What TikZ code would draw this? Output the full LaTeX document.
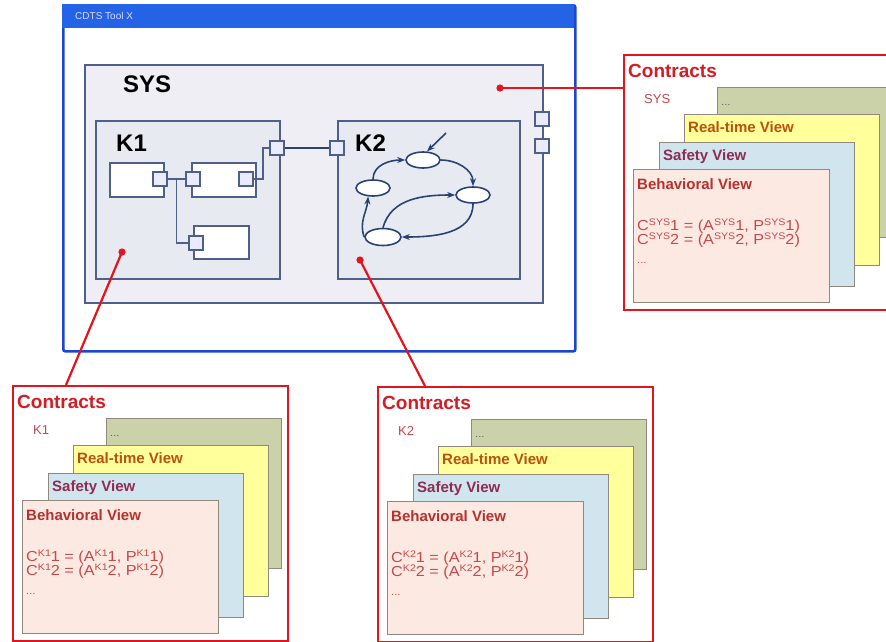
\documentclass[tikz,border=0pt]{standalone}
\usepackage{fontspec}
\setmainfont{Liberation Sans}
\newfontfamily\widesans[FakeStretch=1.12]{Liberation Sans}
\usetikzlibrary{calc,positioning,shapes.geometric,arrows.meta}

\definecolor{winblue}{HTML}{1C45D2}
\definecolor{barblue}{HTML}{2462E6}
\definecolor{sysfill}{HTML}{EEEEF4}
\definecolor{kfill}{HTML}{E8EAF2}
\definecolor{boxline}{HTML}{4E6089}
\definecolor{navy}{HTML}{2A4272}
\definecolor{cred}{HTML}{E3141E}
\definecolor{ctrtext}{HTML}{D41C24}
\definecolor{olivev}{HTML}{CBD1A9}
\definecolor{yellowv}{HTML}{FFFF9C}
\definecolor{bluev}{HTML}{D0E5EE}
\definecolor{pinkv}{HTML}{FCEAE2}
\definecolor{cardline}{HTML}{8F897E}
\definecolor{rtcol}{HTML}{B9520C}
\definecolor{sfcol}{HTML}{8E2C52}
\definecolor{bhcol}{HTML}{B5302E}
\definecolor{fmcol}{HTML}{C8484A}

\newcommand\supr[1]{\raisebox{5pt}{\fontsize{9.5}{9.5}\selectfont #1}}

% one stack of contract views: name, label, top left corner
\newcommand\contracts[3]{%
  \begin{scope}[shift={(#3)}]
    \node[ctrbox, minimum width=275pt, minimum height=255pt] (ctr#1) at (0,0) {};
    \node[ctrtitle] (ctr#1t) at (5,17) {Contracts};
    \node[ctrlabel] (ctr#1l) at (21,45) {#2};
    \node[card, fill=olivev, minimum width=175pt, minimum height=150pt] (#1v4) at (94,33) {};
    \node[formula, text=black!60] (#1v4t) at (98,51) {\fontsize{10}{10}\selectfont ...};
    \node[card, fill=yellowv, minimum width=195pt, minimum height=151pt] (#1v3) at (61,60) {};
    \node[viewtitle, text=rtcol] (#1v3t) at (65,73) {Real-time View};
    \node[card, fill=bluev, minimum width=195pt, minimum height=144pt] (#1v2) at (36,88) {};
    \node[viewtitle, text=sfcol] (#1v2t) at (40,103) {Safety View};
    \node[card, fill=pinkv, minimum width=196pt, minimum height=133pt] (#1v1) at (10,115) {};
    \node[viewtitle, text=bhcol] (#1v1t) at (14,130) {Behavioral View};
    \node[formula] (#1f1) at (14,172) {C\supr{#2}1 = (A\supr{#2}1, P\supr{#2}1)};
    \node[formula] (#1f2) at (14,186) {C\supr{#2}2 = (A\supr{#2}2, P\supr{#2}2)};
    \node[formula] (#1f3) at (14,209) {\fontsize{10}{10}\selectfont ...};
  \end{scope}}

\tikzset{
  box/.style={draw=boxline, line width=1.8pt, inner sep=0pt, anchor=north west},
  port/.style={draw=boxline, fill=white!92!blue, line width=1.6pt, inner sep=0pt,
    minimum width=14pt, minimum height=14pt},
  comp/.style={box, fill=white},
  state/.style={ellipse, draw=navy, fill=white, line width=1.6pt, inner sep=0pt,
    minimum width=34pt, minimum height=16pt},
  trans/.style={draw=navy, line width=1.6pt, -{Stealth[length=8pt,width=6pt]}},
  bigname/.style={anchor=west, inner sep=0pt, font=\bfseries\fontsize{24}{24}\selectfont},
  ctrbox/.style={draw=cred, line width=1.8pt, fill=white, inner sep=0pt, anchor=north west},
  ctrtitle/.style={anchor=west, inner sep=0pt, text=ctrtext, font=\bfseries\fontsize{19}{19}\selectfont},
  ctrlabel/.style={anchor=west, inner sep=0pt, text=fmcol, font=\fontsize{13}{13}\selectfont},
  card/.style={draw=cardline, line width=1pt, inner sep=0pt, anchor=north west},
  viewtitle/.style={anchor=west, inner sep=0pt, font=\bfseries\fontsize{15}{15}\selectfont},
  formula/.style={anchor=west, inner sep=0pt, text=fmcol, font=\widesans\fontsize{14.5}{14.5}\selectfont},
  redline/.style={draw=cred, line width=2.2pt},
}

\begin{document}
\begin{tikzpicture}[x=1pt, y=-1pt]
  \useasboundingbox (0,0) rectangle (886,641);

  % tool window
  \node[draw=winblue, line width=2.6pt, fill=white, inner sep=0pt, anchor=north west,
    minimum width=512pt, minimum height=346pt, rounded corners=2pt] (win) at (62,4) {};
  \node[fill=barblue, inner sep=0pt, anchor=north west, minimum width=512pt,
    minimum height=24pt] (bar) at (62,4) {};
  \node[anchor=west, inner sep=0pt, text=white!85!blue, font=\fontsize{10}{10}\selectfont]
    (wintitle) at (75,16) {CDTS Tool X};

  % system and its two parts
  \node[box, fill=sysfill, minimum width=458pt, minimum height=238pt] (sys) at (84,64) {};
  \node[bigname] (sysname) at (123,84) {SYS};
  \node[port] (pSysA) at (542,119) {};
  \node[port] (pSysB) at (542,146) {};

  \node[box, fill=kfill, minimum width=184pt, minimum height=158pt] (k1) at (95,120) {};
  \node[bigname] (k1name) at (116,143) {K1};
  \node[box, fill=kfill, minimum width=182pt, minimum height=158pt] (k2) at (337,120) {};
  \node[bigname] (k2name) at (355,143) {K2};
  \node[port] (pK1) at (277,148) {};
  \node[port] (pK2) at (337,148) {};
  \draw[navy, line width=1.3pt] (pK1) -- (pK2);

  % components of K1
  \node[comp, minimum width=54pt, minimum height=34pt] (cA) at (109,162) {};
  \node[comp, minimum width=64pt, minimum height=34pt] (cB) at (191,162) {};
  \node[comp, minimum width=55pt, minimum height=33pt] (cC) at (193,225) {};
  \node[port] (cAr) at (160,179) {};
  \node[port] (cBl) at (193,179) {};
  \node[port] (cBr) at (246,179) {};
  \node[port] (cCl) at (196,243) {};
  \coordinate (jn) at ($(cAr.east)!0.5!(cBl.west)$);
  \coordinate (bend) at ($(cBr.east)+(9,0)$);
  \draw[boxline, line width=1.4pt] (cAr) -- (cBl);
  \draw[boxline, line width=1.4pt] (jn) |- (cCl);
  \draw[boxline, line width=1.4pt] (cBr) -- (bend) |- (pK1);

  % states of K2
  \node[state] (s1) at (423,160) {};
  \node[state] (s2) at (373,188) {};
  \node[state] (s3) at (473,195) {};
  \node[state, minimum width=36pt, minimum height=17pt] (s4) at (383,237) {};
  \coordinate (init) at (446,133);
  \draw[trans] (init) -- (s1.65);
  \draw[trans] (s2.north) to[out=90, in=180] (s1.west);
  \draw[trans] (s1.east) to[out=0, in=90] (s3.north);
  \draw[trans] (s4.north) to[out=75, in=180] (s3.west);
  \draw[trans] (s3.south) to[out=-90, in=0] (s4.east);
  \draw[trans] (s4.west) to[out=110, in=-95] (s2.240);

  % contract stacks
  \contracts{Sys}{SYS}{623,54}
  \contracts{Ka}{K1}{12,385}
  \contracts{Kb}{K2}{377,386}

  % links from parts to their contracts
  \coordinate (dotSys) at (500,88);
  \coordinate (dotK1) at (122,252);
  \coordinate (dotK2) at (360,260);
  \draw[redline] (dotSys) -- (dotSys -| ctrSys.west);
  \draw[redline] (dotK1) -- ($(ctrKa.north west)+(54,0)$);
  \draw[redline] (dotK2) -- ($(ctrKb.north west)+(48,0)$);
  \fill[cred] (dotSys) circle (3.6);
  \fill[cred] (dotK1) circle (3.6);
  \fill[cred] (dotK2) circle (3.6);
\end{tikzpicture}
\end{document}
